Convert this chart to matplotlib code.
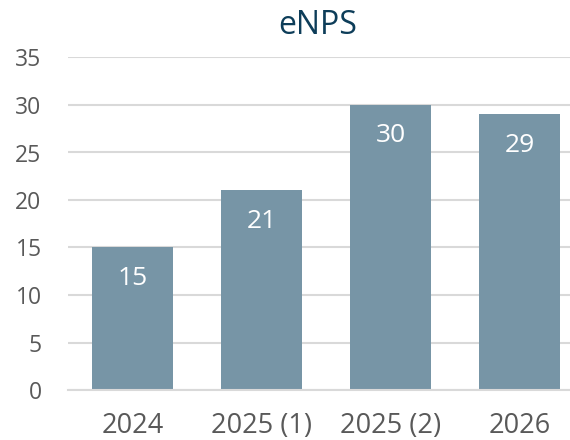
import numpy as np
import matplotlib.pyplot as plt

plt.rcParams['font.family'] = ['Open Sans', 'DejaVu Sans']

categories = ['2024', '2025 (1)', '2025 (2)', '2026']
values = [15, 21, 30, 29]
y_ticks = [0, 5, 10, 15, 20, 25, 30, 35]

BAR_COLOR = '#7795a6'
GRID_COLOR = '#d9d9d9'
TEXT_COLOR = '#595959'
TITLE_COLOR = '#0d3d59'

fig = plt.figure(figsize=(5.7, 4.4), dpi=100)
# plot area runs a bit past the right edge, as in the reference
ax = fig.add_axes([68 / 570, 50 / 440, 516 / 570, 332.5 / 440])

x = np.arange(len(categories))
bars = ax.bar(x, values, width=0.625, color=BAR_COLOR, zorder=2)

for rect, v in zip(bars, values):
    ax.annotate(str(v), (rect.get_x() + rect.get_width() / 2, v),
                xytext=(0, -22), textcoords='offset points',
                ha='center', va='center', color='white', fontsize=19)

ax.set_xlim(-0.5, len(categories) - 0.5)
ax.set_ylim(0, 35)
ax.set_yticks(y_ticks)
ax.set_xticks(x)
ax.set_xticklabels(categories)
ax.grid(axis='y', color=GRID_COLOR, linewidth=1.5, zorder=0)
ax.set_axisbelow(True)

for side in ['top', 'right', 'left']:
    ax.spines[side].set_visible(False)
ax.spines['bottom'].set_color(GRID_COLOR)
ax.spines['bottom'].set_linewidth(1.5)

ax.tick_params(axis='y', length=0, pad=19, labelsize=16.5, labelcolor=TEXT_COLOR)
ax.tick_params(axis='x', length=0, pad=15.5, labelsize=19.5, labelcolor=TEXT_COLOR)

fig.text(318 / 570, 1 - 26 / 440, 'eNPS', ha='center', va='center',
         fontsize=23, color=TITLE_COLOR)

fig.savefig('out.png', dpi=100)
